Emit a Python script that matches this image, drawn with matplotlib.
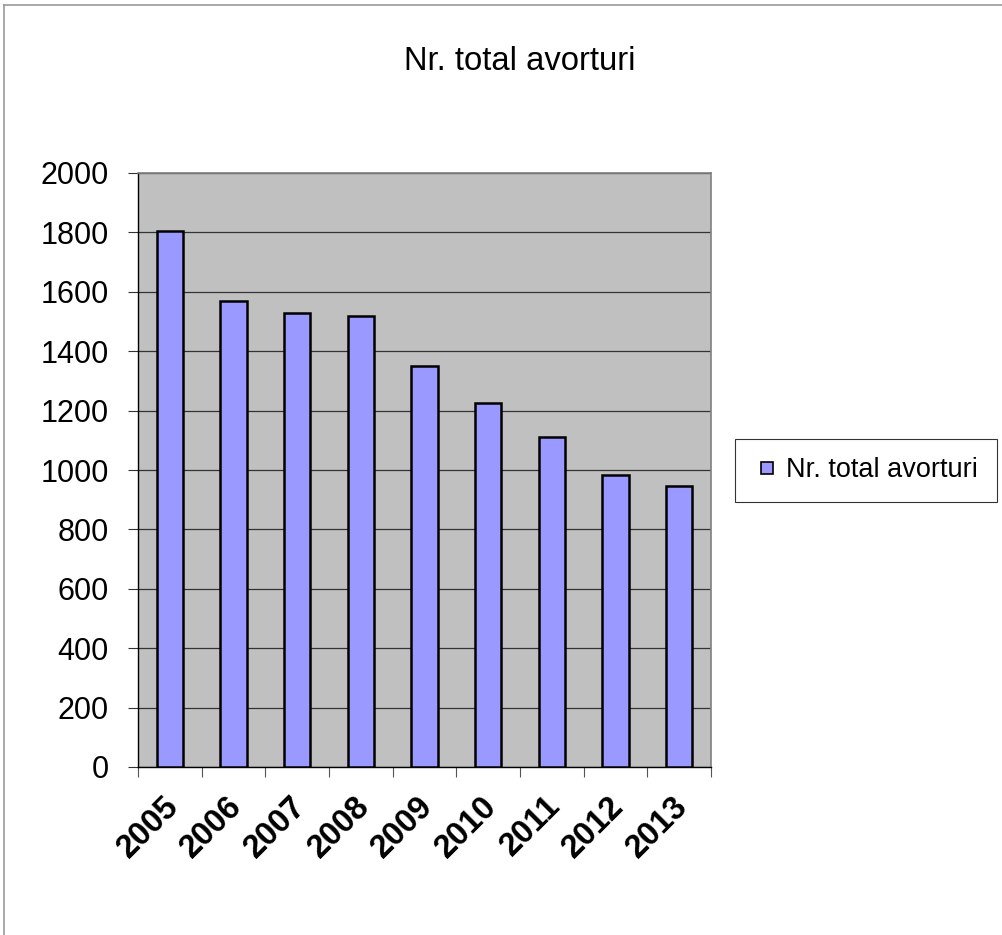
import numpy as np
import matplotlib
matplotlib.use("Agg")
import matplotlib.pyplot as plt
from matplotlib.lines import Line2D
from matplotlib.transforms import ScaledTranslation

plt.rcParams['font.family'] = ['Liberation Sans', 'DejaVu Sans']

# data
years = ['2005', '2006', '2007', '2008', '2009', '2010', '2011', '2012', '2013']
avorturi = [1806, 1568, 1530, 1517, 1351, 1227, 1112, 982, 947]
series_name = 'Nr. total avorturi'

fig = plt.figure(figsize=(10.03, 9.35), dpi=100)
ax = fig.add_axes([138 / 1003, 1 - 767 / 935, 573 / 1003, 594 / 935])

x = np.arange(len(years))
ax.set_facecolor('#C0C0C0')
ax.bar(x, avorturi, width=0.41, color='#9999FF', edgecolor='black',
       linewidth=1.8, zorder=3)

ax.set_xlim(-0.5, len(years) - 0.5)
ax.set_ylim(0, 2000)
ax.set_yticks(np.arange(0, 2001, 200))
ax.yaxis.grid(True, color='#333333', linewidth=0.9, zorder=1)
ax.set_axisbelow(True)

# category labels at centres, tick marks on category boundaries
ax.set_xticks(x)
ax.set_xticklabels(years, rotation=45, ha='right', va='top',
                   rotation_mode='anchor', fontsize=23.5, fontweight='bold')
ax.set_xticks(np.arange(-0.5, len(years)), minor=True)
ax.tick_params(axis='x', which='major', length=0, pad=17)
ax.tick_params(axis='x', which='minor', length=7, width=0.8, color='#555555')
ax.tick_params(axis='y', length=7, width=0.8, pad=14, labelsize=22,
               color='#333333')
offset = ScaledTranslation(-7 / 100, 0, fig.dpi_scale_trans)
for lab in ax.get_xticklabels():
    lab.set_transform(lab.get_transform() + offset)

for side in ['top', 'right']:
    ax.spines[side].set_color('#808080')
    ax.spines[side].set_linewidth(1.2)
for side in ['left', 'bottom']:
    ax.spines[side].set_color('black')
    ax.spines[side].set_linewidth(1.0)

fig.text(520 / 1003, 1 - 62 / 935, series_name, ha='center', va='center',
         fontsize=23.6)

handle = Line2D([], [], linestyle='none', marker='s', markersize=8.6,
                markerfacecolor='#9999FF', markeredgecolor='black',
                markeredgewidth=1.2)
leg = fig.legend([handle], [series_name], loc='center left',
                 bbox_to_anchor=(735 / 1003, 1 - 470.5 / 935),
                 fontsize=19.5, frameon=True, fancybox=False, shadow=False,
                 borderpad=0.7, handlelength=1.0, handletextpad=0.2,
                 borderaxespad=0)
leg.get_frame().set_edgecolor('black')
leg.get_frame().set_linewidth(0.8)

# chart area border (left and top edges visible)
fig.add_artist(Line2D([4 / 1003, 4 / 1003], [0, 1 - 5 / 935],
                      transform=fig.transFigure, color='#9a9a9a', lw=1.2))
fig.add_artist(Line2D([4 / 1003, 1], [1 - 5 / 935, 1 - 5 / 935],
                      transform=fig.transFigure, color='#9a9a9a', lw=1.2))

plt.savefig('out.png', dpi=100)
